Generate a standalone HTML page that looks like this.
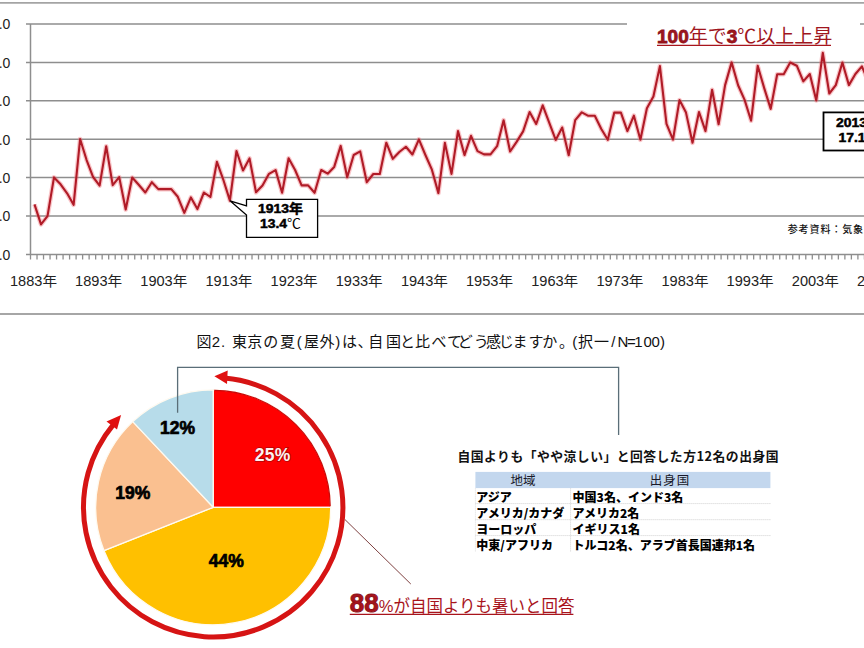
<!DOCTYPE html><html><head><meta charset="utf-8"><style>html,body{margin:0;padding:0;background:#fff;width:864px;height:648px;overflow:hidden}</style></head><body><svg width="864" height="648" viewBox="0 0 864 648" style="display:block">
<style>.l{font-family:"Liberation Sans","Noto Sans CJK JP",sans-serif}.j{font-family:"Noto Sans CJK JP","Liberation Sans",sans-serif}</style>
<rect width="864" height="648" fill="#fff"/>
<line x1="0" y1="2.9" x2="864" y2="2.9" stroke="#a4a4a4" stroke-width="1.7"/>
<line x1="0" y1="314" x2="864" y2="314" stroke="#a6a6a6" stroke-width="1.8"/>
<line x1="26" y1="24.0" x2="864" y2="24.0" stroke="#8e8e8e" stroke-width="1.5"/>
<line x1="26" y1="62.4" x2="864" y2="62.4" stroke="#8e8e8e" stroke-width="1.5"/>
<line x1="26" y1="100.8" x2="864" y2="100.8" stroke="#8e8e8e" stroke-width="1.5"/>
<line x1="26" y1="139.2" x2="864" y2="139.2" stroke="#8e8e8e" stroke-width="1.5"/>
<line x1="26" y1="177.6" x2="864" y2="177.6" stroke="#8e8e8e" stroke-width="1.5"/>
<line x1="26" y1="216.0" x2="864" y2="216.0" stroke="#8e8e8e" stroke-width="1.5"/>
<line x1="30.5" y1="24.0" x2="30.5" y2="254.5" stroke="#8e8e8e" stroke-width="1.5"/>
<line x1="26" y1="254.5" x2="864" y2="254.5" stroke="#8e8e8e" stroke-width="1.5"/>
<path d="M30.50 254.5v5 M37.02 254.5v5 M43.53 254.5v5 M50.05 254.5v5 M56.56 254.5v5 M63.07 254.5v5 M69.59 254.5v5 M76.10 254.5v5 M82.62 254.5v5 M89.13 254.5v5 M95.65 254.5v5 M102.16 254.5v5 M108.68 254.5v5 M115.19 254.5v5 M121.71 254.5v5 M128.22 254.5v5 M134.74 254.5v5 M141.25 254.5v5 M147.77 254.5v5 M154.28 254.5v5 M160.80 254.5v5 M167.31 254.5v5 M173.83 254.5v5 M180.34 254.5v5 M186.86 254.5v5 M193.38 254.5v5 M199.89 254.5v5 M206.41 254.5v5 M212.92 254.5v5 M219.44 254.5v5 M225.95 254.5v5 M232.47 254.5v5 M238.98 254.5v5 M245.49 254.5v5 M252.01 254.5v5 M258.52 254.5v5 M265.04 254.5v5 M271.55 254.5v5 M278.07 254.5v5 M284.58 254.5v5 M291.10 254.5v5 M297.62 254.5v5 M304.13 254.5v5 M310.64 254.5v5 M317.16 254.5v5 M323.68 254.5v5 M330.19 254.5v5 M336.70 254.5v5 M343.22 254.5v5 M349.73 254.5v5 M356.25 254.5v5 M362.76 254.5v5 M369.28 254.5v5 M375.79 254.5v5 M382.31 254.5v5 M388.82 254.5v5 M395.34 254.5v5 M401.85 254.5v5 M408.37 254.5v5 M414.88 254.5v5 M421.40 254.5v5 M427.91 254.5v5 M434.43 254.5v5 M440.94 254.5v5 M447.46 254.5v5 M453.97 254.5v5 M460.49 254.5v5 M467.00 254.5v5 M473.52 254.5v5 M480.03 254.5v5 M486.55 254.5v5 M493.06 254.5v5 M499.58 254.5v5 M506.09 254.5v5 M512.61 254.5v5 M519.12 254.5v5 M525.64 254.5v5 M532.15 254.5v5 M538.67 254.5v5 M545.18 254.5v5 M551.70 254.5v5 M558.21 254.5v5 M564.73 254.5v5 M571.25 254.5v5 M577.76 254.5v5 M584.27 254.5v5 M590.79 254.5v5 M597.30 254.5v5 M603.82 254.5v5 M610.33 254.5v5 M616.85 254.5v5 M623.37 254.5v5 M629.88 254.5v5 M636.39 254.5v5 M642.91 254.5v5 M649.42 254.5v5 M655.94 254.5v5 M662.45 254.5v5 M668.97 254.5v5 M675.49 254.5v5 M682.00 254.5v5 M688.51 254.5v5 M695.03 254.5v5 M701.54 254.5v5 M708.06 254.5v5 M714.57 254.5v5 M721.09 254.5v5 M727.61 254.5v5 M734.12 254.5v5 M740.63 254.5v5 M747.15 254.5v5 M753.66 254.5v5 M760.18 254.5v5 M766.69 254.5v5 M773.21 254.5v5 M779.72 254.5v5 M786.24 254.5v5 M792.75 254.5v5 M799.27 254.5v5 M805.78 254.5v5 M812.30 254.5v5 M818.81 254.5v5 M825.33 254.5v5 M831.84 254.5v5 M838.36 254.5v5 M844.88 254.5v5 M851.39 254.5v5 M857.90 254.5v5 M864.42 254.5v5 M870.93 254.5v5" stroke="#8e8e8e" stroke-width="1.3" fill="none"/>
<text x="10.3" y="29.3" text-anchor="end" class="l" font-size="14" fill="#222">18.0</text>
<text x="10.3" y="67.7" text-anchor="end" class="l" font-size="14" fill="#222">17.0</text>
<text x="10.3" y="106.1" text-anchor="end" class="l" font-size="14" fill="#222">16.0</text>
<text x="10.3" y="144.5" text-anchor="end" class="l" font-size="14" fill="#222">15.0</text>
<text x="10.3" y="182.9" text-anchor="end" class="l" font-size="14" fill="#222">14.0</text>
<text x="10.3" y="221.3" text-anchor="end" class="l" font-size="14" fill="#222">13.0</text>
<text x="10.3" y="259.7" text-anchor="end" class="l" font-size="14" fill="#222">12.0</text>
<text x="33.5" y="285.8" text-anchor="middle" class="l" font-size="14" fill="#222" textLength="47" lengthAdjust="spacingAndGlyphs">1883年</text>
<text x="98.6" y="285.8" text-anchor="middle" class="l" font-size="14" fill="#222" textLength="47" lengthAdjust="spacingAndGlyphs">1893年</text>
<text x="163.8" y="285.8" text-anchor="middle" class="l" font-size="14" fill="#222" textLength="47" lengthAdjust="spacingAndGlyphs">1903年</text>
<text x="228.9" y="285.8" text-anchor="middle" class="l" font-size="14" fill="#222" textLength="47" lengthAdjust="spacingAndGlyphs">1913年</text>
<text x="294.1" y="285.8" text-anchor="middle" class="l" font-size="14" fill="#222" textLength="47" lengthAdjust="spacingAndGlyphs">1923年</text>
<text x="359.2" y="285.8" text-anchor="middle" class="l" font-size="14" fill="#222" textLength="47" lengthAdjust="spacingAndGlyphs">1933年</text>
<text x="424.4" y="285.8" text-anchor="middle" class="l" font-size="14" fill="#222" textLength="47" lengthAdjust="spacingAndGlyphs">1943年</text>
<text x="489.5" y="285.8" text-anchor="middle" class="l" font-size="14" fill="#222" textLength="47" lengthAdjust="spacingAndGlyphs">1953年</text>
<text x="554.7" y="285.8" text-anchor="middle" class="l" font-size="14" fill="#222" textLength="47" lengthAdjust="spacingAndGlyphs">1963年</text>
<text x="619.9" y="285.8" text-anchor="middle" class="l" font-size="14" fill="#222" textLength="47" lengthAdjust="spacingAndGlyphs">1973年</text>
<text x="685.0" y="285.8" text-anchor="middle" class="l" font-size="14" fill="#222" textLength="47" lengthAdjust="spacingAndGlyphs">1983年</text>
<text x="750.1" y="285.8" text-anchor="middle" class="l" font-size="14" fill="#222" textLength="47" lengthAdjust="spacingAndGlyphs">1993年</text>
<text x="815.3" y="285.8" text-anchor="middle" class="l" font-size="14" fill="#222" textLength="47" lengthAdjust="spacingAndGlyphs">2003年</text>
<text x="880.4" y="285.8" text-anchor="middle" class="l" font-size="14" fill="#222" textLength="47" lengthAdjust="spacingAndGlyphs">2013年</text>
<polyline points="34.5,204.4 41.0,224.4 47.5,216.1 54.0,177.4 60.6,184.3 67.1,193.3 73.6,204.8 80.1,139.0 86.6,160.0 93.1,177.0 99.6,185.6 106.2,146.2 112.7,185.2 119.2,177.1 125.7,209.5 132.2,177.5 138.7,184.8 145.3,192.5 151.8,182.2 158.3,189.1 164.8,189.1 171.3,189.1 177.8,196.8 184.3,212.8 190.9,197.4 197.4,209.1 203.9,192.5 210.4,197.0 216.9,161.9 223.4,180.0 229.9,200.6 236.5,151.0 243.0,170.5 249.5,158.4 256.0,192.3 262.5,185.6 269.0,173.8 275.6,170.1 282.1,192.8 288.6,158.3 295.1,170.0 301.6,185.4 308.1,185.4 314.6,192.8 321.2,170.0 327.7,173.7 334.2,166.9 340.7,145.9 347.2,177.3 353.7,155.0 360.2,151.4 366.8,182.2 373.3,174.0 379.8,174.0 386.3,142.7 392.8,158.8 399.3,152.0 405.9,146.8 412.4,154.5 418.9,139.4 425.4,155.0 431.9,169.7 438.4,193.1 444.9,142.9 451.5,173.9 458.0,131.1 464.5,155.1 471.0,135.8 477.5,151.1 484.0,154.4 490.5,154.4 497.1,146.2 503.6,120.2 510.1,151.5 516.6,141.9 523.1,131.4 529.6,112.0 536.2,124.0 542.7,105.3 549.2,122.7 555.7,139.9 562.2,127.5 568.7,155.3 575.2,120.1 581.8,112.3 588.3,115.8 594.8,115.8 601.3,129.0 607.8,139.8 614.3,112.6 620.9,112.6 627.4,131.1 633.9,115.7 640.4,139.8 646.9,108.3 653.4,96.5 659.9,66.1 666.5,123.8 673.0,139.7 679.5,100.1 686.0,112.6 692.5,142.8 699.0,112.0 705.5,131.1 712.1,89.7 718.6,124.3 725.1,85.1 731.6,62.4 738.1,85.3 744.6,99.9 751.1,120.7 757.7,65.8 764.2,88.1 770.7,108.9 777.2,74.2 783.7,74.2 790.2,62.5 796.8,65.7 803.3,81.4 809.8,74.0 816.3,100.4 822.8,52.8 829.3,93.5 835.8,85.1 842.4,62.5 848.9,85.1 855.4,74.0 861.9,66.4 868.4,81.6 874.9,89.3 881.4,58.6" fill="none" stroke="#f07078" stroke-width="4.6" stroke-linejoin="round" opacity="0.4"/>
<polyline points="34.5,204.4 41.0,224.4 47.5,216.1 54.0,177.4 60.6,184.3 67.1,193.3 73.6,204.8 80.1,139.0 86.6,160.0 93.1,177.0 99.6,185.6 106.2,146.2 112.7,185.2 119.2,177.1 125.7,209.5 132.2,177.5 138.7,184.8 145.3,192.5 151.8,182.2 158.3,189.1 164.8,189.1 171.3,189.1 177.8,196.8 184.3,212.8 190.9,197.4 197.4,209.1 203.9,192.5 210.4,197.0 216.9,161.9 223.4,180.0 229.9,200.6 236.5,151.0 243.0,170.5 249.5,158.4 256.0,192.3 262.5,185.6 269.0,173.8 275.6,170.1 282.1,192.8 288.6,158.3 295.1,170.0 301.6,185.4 308.1,185.4 314.6,192.8 321.2,170.0 327.7,173.7 334.2,166.9 340.7,145.9 347.2,177.3 353.7,155.0 360.2,151.4 366.8,182.2 373.3,174.0 379.8,174.0 386.3,142.7 392.8,158.8 399.3,152.0 405.9,146.8 412.4,154.5 418.9,139.4 425.4,155.0 431.9,169.7 438.4,193.1 444.9,142.9 451.5,173.9 458.0,131.1 464.5,155.1 471.0,135.8 477.5,151.1 484.0,154.4 490.5,154.4 497.1,146.2 503.6,120.2 510.1,151.5 516.6,141.9 523.1,131.4 529.6,112.0 536.2,124.0 542.7,105.3 549.2,122.7 555.7,139.9 562.2,127.5 568.7,155.3 575.2,120.1 581.8,112.3 588.3,115.8 594.8,115.8 601.3,129.0 607.8,139.8 614.3,112.6 620.9,112.6 627.4,131.1 633.9,115.7 640.4,139.8 646.9,108.3 653.4,96.5 659.9,66.1 666.5,123.8 673.0,139.7 679.5,100.1 686.0,112.6 692.5,142.8 699.0,112.0 705.5,131.1 712.1,89.7 718.6,124.3 725.1,85.1 731.6,62.4 738.1,85.3 744.6,99.9 751.1,120.7 757.7,65.8 764.2,88.1 770.7,108.9 777.2,74.2 783.7,74.2 790.2,62.5 796.8,65.7 803.3,81.4 809.8,74.0 816.3,100.4 822.8,52.8 829.3,93.5 835.8,85.1 842.4,62.5 848.9,85.1 855.4,74.0 861.9,66.4 868.4,81.6 874.9,89.3 881.4,58.6" fill="none" stroke="#b01b27" stroke-width="2.1" stroke-linejoin="round"/>
<rect x="627" y="12" width="233" height="38" fill="#fff"/>
<text x="657" y="42.8" class="l" fill="#a0161e" font-size="19"><tspan font-weight="bold" font-size="19" stroke="#8c1018" stroke-width="0.8">100</tspan>年で<tspan font-weight="bold" font-size="19" stroke="#8c1018" stroke-width="0.8">3</tspan>℃以上上昇</text>
<line x1="657" y1="45.4" x2="831" y2="45.4" stroke="#a8141c" stroke-width="1.2"/>
<path d="M246.5 199.4 H317.6 V237.3 H246.5 V215 L230 200.8 L246.5 205.8 Z" fill="#fff" stroke="#000" stroke-width="1.3"/>
<text x="258" y="213.4" class="l" font-size="13" font-weight="bold" fill="#000" stroke="#000" stroke-width="0.5" textLength="45" lengthAdjust="spacingAndGlyphs">1913年</text>
<text x="260" y="227.6" class="l" font-size="13" font-weight="bold" fill="#000" textLength="41" lengthAdjust="spacingAndGlyphs"><tspan stroke="#000" stroke-width="0.5">13.4</tspan><tspan font-weight="normal">℃</tspan></text>
<rect x="823.5" y="112.4" width="50" height="38.1" fill="#fff" stroke="#000" stroke-width="1.8"/>
<text x="836" y="127.3" class="l" font-size="13" font-weight="bold" fill="#000" stroke="#000" stroke-width="0.5" textLength="45" lengthAdjust="spacingAndGlyphs">2013年</text>
<text x="838.5" y="141.6" class="l" font-size="13" font-weight="bold" fill="#000" textLength="41" lengthAdjust="spacingAndGlyphs"><tspan stroke="#000" stroke-width="0.5">17.1</tspan><tspan font-weight="normal">℃</tspan></text>
<text x="787.7" y="233" class="j" font-size="10" font-weight="500" fill="#111" letter-spacing="0.9">参考資料：気象庁</text>
<text x="196.4 211.8 220.9 226.5 231.9 247.3 263.2 280.1 296.8 303.9 319.4 335.3 342.1 357.6 368.2 386.1 400.1 415.1 431.4 446.9 457.8 473.8 486.1 498.8 512.5 528.5 542.3 559.1 572.3 578.0 594.0 611.2 617.6 627.1 634.2 643.4 651.4 660.0" y="347.3" class="l" font-size="15" fill="#111">図2. 東京の夏(屋外)は、自国と比べてどう感じますか。(択一/N=100)</text>
<path d="M213.2 507.3 L213.20 389.80 A117.5 117.5 0 0 1 330.70 507.30 Z" fill="#ff0000" stroke="#fffaf0" stroke-width="1.3" stroke-linejoin="round"/>
<path d="M213.2 507.3 L330.70 507.30 A117.5 117.5 0 0 1 103.95 550.55 Z" fill="#ffc000" stroke="#fffaf0" stroke-width="1.3" stroke-linejoin="round"/>
<path d="M213.2 507.3 L103.95 550.55 A117.5 117.5 0 0 1 132.77 421.65 Z" fill="#fac090" stroke="#fffaf0" stroke-width="1.3" stroke-linejoin="round"/>
<path d="M213.2 507.3 L132.77 421.65 A117.5 117.5 0 0 1 213.20 389.80 Z" fill="#b7dcea" stroke="#fffaf0" stroke-width="1.3" stroke-linejoin="round"/>
<path d="M214.22 390.30 A117.0 117.0 0 0 1 330.20 506.28" fill="none" stroke="#c80808" stroke-width="1.2"/>
<text x="272.6" y="461" text-anchor="middle" class="l" font-size="17.5" font-weight="bold" fill="#fff0f0" stroke="#7a0a0a" stroke-width="1.6" stroke-opacity="0.6" paint-order="stroke" textLength="35.5" lengthAdjust="spacing">25%</text>
<text x="177.5" y="433.5" text-anchor="middle" class="l" font-size="17.5" font-weight="bold" fill="#000" stroke="#000" stroke-width="0.7">12%</text>
<text x="132.8" y="498.7" text-anchor="middle" class="l" font-size="17.5" font-weight="bold" fill="#000" stroke="#000" stroke-width="0.7">19%</text>
<text x="226.3" y="566.7" text-anchor="middle" class="l" font-size="17.5" font-weight="bold" fill="#000" stroke="#000" stroke-width="0.7">44%</text>
<path d="M224.50 378.09 A129.7 129.7 0 1 1 113.12 424.80" fill="none" stroke="#d61414" stroke-width="5"/>
<path d="M214.4 376.2 L227.7 370.5 L227 384 Z" fill="#e01010"/>
<path d="M121.1 415.1 L106.5 421.6 L117 429.6 Z" fill="#e01010"/>
<path d="M177.6 412.7 V367.3 H618.6 V434.9" fill="none" stroke="#5a6e78" stroke-width="1.3"/>
<line x1="344.8" y1="519.4" x2="410.8" y2="584" stroke="#7e4040" stroke-width="1"/>
<text x="349.8" y="612.2" class="l" fill="#a8141c" font-size="16.5"><tspan font-weight="bold" font-size="26" stroke="#8c1018" stroke-width="0.9">88</tspan>%が自国よりも暑いと回答</text>
<line x1="349.8" y1="614.4" x2="573.4" y2="614.4" stroke="#a8141c" stroke-width="1.2"/>
<text x="457.5" y="461.2" class="j" font-size="12.8" font-weight="700" fill="#111" textLength="321" lengthAdjust="spacing">自国よりも「やや涼しい」と回答した方12名の出身国</text>
<rect x="475.4" y="471.9" width="295" height="16.2" fill="#c3d7ee"/>
<text x="523" y="485.3" text-anchor="middle" class="j" font-size="12.5" fill="#1a1a2a">地域</text>
<text x="670" y="485.3" text-anchor="middle" class="j" font-size="12.5" fill="#1a1a2a" letter-spacing="1">出身国</text>
<text x="476.3" y="501.6" class="j" font-size="12" font-weight="900" fill="#000">アジア</text>
<text x="572.6" y="501.6" class="j" font-size="12" font-weight="900" fill="#000">中国3名、インド3名</text>
<line x1="475.4" y1="503.6" x2="770.4" y2="503.6" stroke="#cfcfcf" stroke-width="1" stroke-dasharray="1 1"/>
<text x="476.3" y="517.7" class="j" font-size="12" font-weight="900" fill="#000">アメリカ/カナダ</text>
<text x="572.6" y="517.7" class="j" font-size="12" font-weight="900" fill="#000">アメリカ2名</text>
<line x1="475.4" y1="519.7" x2="770.4" y2="519.7" stroke="#cfcfcf" stroke-width="1" stroke-dasharray="1 1"/>
<text x="476.3" y="533.6" class="j" font-size="12" font-weight="900" fill="#000">ヨーロッパ</text>
<text x="572.6" y="533.6" class="j" font-size="12" font-weight="900" fill="#000">イギリス1名</text>
<line x1="475.4" y1="535.6" x2="770.4" y2="535.6" stroke="#cfcfcf" stroke-width="1" stroke-dasharray="1 1"/>
<text x="476.3" y="550.0" class="j" font-size="12" font-weight="900" fill="#000">中東/アフリカ</text>
<text x="572.6" y="550.0" class="j" font-size="12" font-weight="900" fill="#000">トルコ2名、アラブ首長国連邦1名</text>
<line x1="570.6" y1="488.4" x2="570.6" y2="552" stroke="#cfcfcf" stroke-width="1" stroke-dasharray="1 1"/>
<line x1="475.4" y1="488.4" x2="475.4" y2="552" stroke="#dcdcdc" stroke-width="1" stroke-dasharray="1 1"/>
</svg></body></html>
